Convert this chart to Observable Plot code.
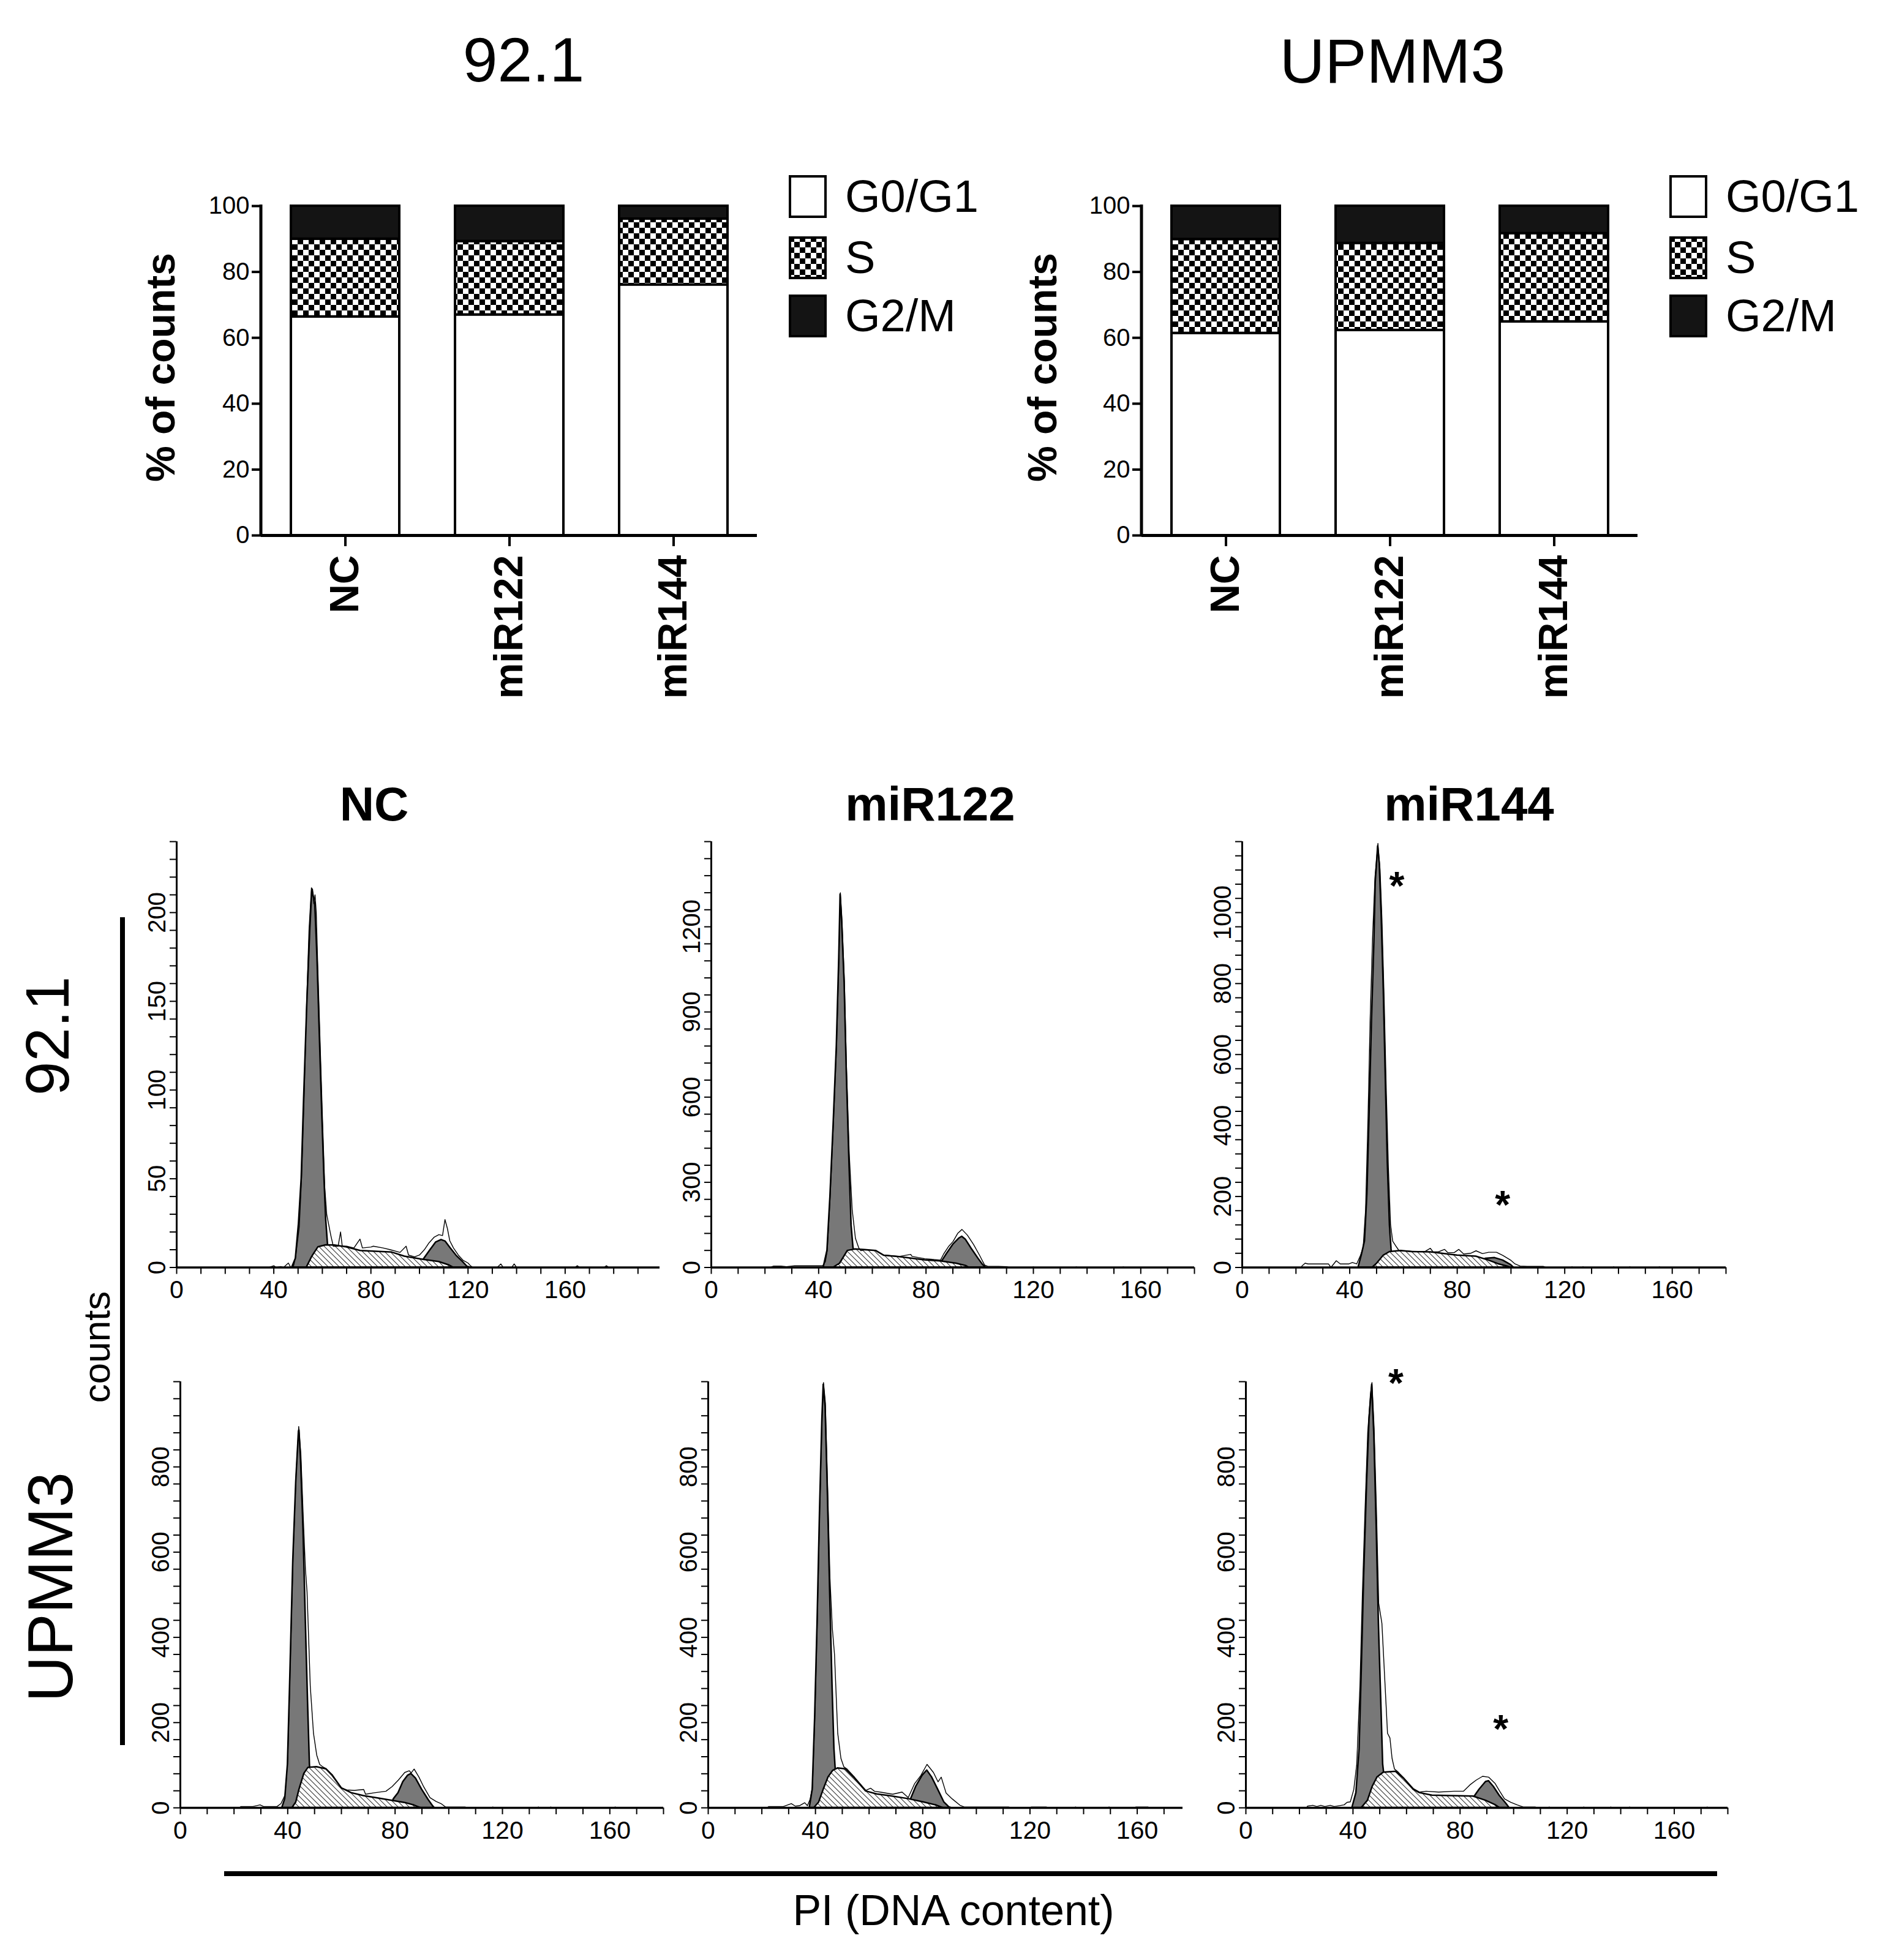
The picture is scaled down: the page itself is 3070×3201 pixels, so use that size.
<!DOCTYPE html>
<html><head><meta charset="utf-8">
<script src="https://cdn.jsdelivr.net/npm/d3@7"></script>
<script src="https://cdn.jsdelivr.net/npm/@observablehq/plot@0.6"></script>
<style>
body{margin:0;background:#fff;}
#root{position:relative;width:3070px;height:3201px;background:#fff;font-family:"Liberation Sans",Arial,sans-serif;overflow:hidden;color:#000;}
.lbl{position:absolute;white-space:nowrap;line-height:1;color:#000;transform:translate(-50%,-50%);}
.rot{transform:translate(-50%,-50%) rotate(-90deg);}
.bar{position:absolute;background:#000;}
</style></head><body>
<svg style="position:absolute;width:0;height:0" aria-hidden="true">
<defs>
<pattern id="checker" patternUnits="userSpaceOnUse" width="18" height="18"><rect width="18" height="18" fill="white"/><rect width="9" height="9" fill="black"/><rect x="9" y="9" width="9" height="9" fill="black"/></pattern>
<pattern id="hatch" patternUnits="userSpaceOnUse" width="9" height="9"><rect width="9" height="9" fill="white"/><path d="M0,0L9,9M-2,7L2,11M7,-2L11,2" stroke="#333" stroke-width="1.1"/></pattern>
</defs></svg>
<div id="root"></div>
<script>
// ---------- bar chart data ----------
const categories = ["NC", "miR122", "miR144"];
const phases = ["G0/G1", "S", "G2/M"];
const g1_921 = [66.4, 67.0, 76.1];
const s_921 = [23.6, 22.3, 20.0];
const g2m_921 = [10.0, 10.7, 3.9];
const g1_upmm3 = [61.4, 62.3, 64.9];
const s_upmm3 = [28.5, 26.4, 26.8];
const g2m_upmm3 = [10.1, 11.3, 8.3];
const pctTicks = [0, 20, 40, 60, 80, 100];

// ---------- histogram data: [PI, counts] ----------
// 92.1 NC
const a_g1 = [[47.5,0],[49,5],[50.3,25],[51.4,50],[52.4,95],[53.7,148],[55,192],[55.8,213],[57,205],[57.9,175],[58.9,130],[59.9,86],[60.8,50],[61.5,27],[62.3,12],[63,0]];
const a_s = [[53.5,0],[55.7,6],[58.3,11.5],[61.5,12.6],[65,12.5],[69.9,11.5],[75.7,9.4],[82,9],[88.7,8.5],[93.9,6.2],[101.6,4.4],[108,3.2],[112,1.4],[114,0]];
const a_g2 = [[100,0],[101.6,4.4],[104.2,9.4],[106.8,14.2],[109,15.6],[110.7,14.7],[112.6,11.2],[115.2,6.7],[117.8,3.2],[119.7,0.5],[121,0]];
const a_raw = [[38,0],[40,1],[41,0],[43,0.5],[44,0],[46,2.5],[47,0],[48,0],[49,6],[50.5,23],[51.5,52],[52.5,96],[53.5,148],[54.5,190],[55.5,214],[56,213],[56.5,205],[57,210],[57.5,200],[58,175],[59,130],[60,86],[61,45],[61.8,30],[62.5,25],[63.5,18],[64.5,12],[66.5,12],[67.5,20],[68.2,12],[70,12],[73,11],[75.5,16],[76.5,11],[80,11.5],[81,12],[85,11],[88,10],[92,8.5],[94.5,12],[95.5,7],[98,6],[100,7],[102,10],[104,14],[106,17],[108,18.5],[109.5,18],[110.5,27],[111.5,22],[112.5,15],[114,11],[116,7],[118,4],[120,2.5],[121,1],[122,0],[132,0],[133.5,2],[134.5,0],[138,0],[139,2],[140,0],[164,0],[165,1],[166,0],[176,0],[177,1],[178,0]];
// 92.1 miR122
const b_g1 = [[41.8,0],[43.2,59],[44.3,248],[45.5,503],[46.7,781],[47.6,1092],[48.1,1314],[48.7,1214],[49.6,1003],[50.4,692],[51.4,370],[52.2,148],[52.9,70],[53.4,48],[54,0]];
const b_s = [[45.5,0],[47.9,14],[50.8,59],[53.7,64],[57.2,62],[61.3,59],[64.3,42],[70.1,37],[79.5,26],[85.4,22],[91.3,14],[94.8,6],[96,0]];
const b_g2 = [[84,0],[86,23],[87.7,48],[90.1,81],[92.4,103],[93.4,109],[94.8,98],[97.1,64],[99.5,31],[101.2,9],[102.4,0]];
const b_raw = [[22,0],[23.2,5],[26,5],[28,3],[31,6],[35,6],[39,6],[41.5,6],[42.5,20],[43.2,59],[44.3,250],[45.5,505],[46.7,785],[47.6,1095],[48.1,1320],[48.7,1225],[49.6,1010],[50.4,700],[51.4,400],[52.5,203],[53.7,103],[54.9,70],[55.7,59],[57.2,62],[61.3,60],[64.3,44],[70.1,39],[74.3,46],[74.8,39],[79.5,31],[85.4,26],[86.6,48],[88.5,75],[90.1,92],[91.8,120],[93.4,134],[95.4,114],[97.7,81],[100,42],[101.8,9],[103,4],[107,4],[110,3],[111,0],[119.5,0],[120,2],[120.5,0],[135.5,0],[136,2],[136.5,0],[153,0],[153.5,2],[154,0]];
// 92.1 miR144
const c_g1 = [[43.2,0],[44.4,34],[45.6,74],[46.5,207],[47.3,428],[48.2,694],[49.1,916],[49.6,1085],[50.5,1187],[51.1,1138],[51.8,996],[52.6,783],[53.4,517],[54.1,295],[54.9,118],[55.5,51],[56.2,0]];
const c_s = [[48.5,0],[50.2,12],[52.6,34],[54.9,44],[59,47],[63.1,44],[70.1,43],[80,34],[87,31],[91.7,20],[95.2,10],[98.7,3],[99.9,0]];
const c_g2 = [[88,0],[90.5,25],[94,27],[97,20],[100,7],[101,0]];
const c_raw = [[22,0],[22.2,4],[23.4,12],[24.5,10],[28,10],[32.1,10],[33,0],[35,19],[36.5,10],[39.7,10],[41,14],[42.6,10],[44,34],[45,56],[45.9,162],[46.8,420],[47.6,700],[48.5,930],[49.4,1100],[50.5,1195],[51.3,1120],[52,980],[52.8,760],[53.6,500],[54.4,280],[55.2,120],[56,74],[57.2,60],[58.4,47],[63,46],[68,45],[70,54],[71,44],[73,44],[75.3,51],[76.5,42],[78.9,42],[80.6,51],[82.4,38],[85,40],[87,47],[89.4,39],[91.7,43],[94.6,43],[97,34],[100,20],[101.5,10],[103.4,4],[106,3],[112,3],[113,0],[122.5,0],[122.7,2],[123,0],[126.5,0],[126.8,2],[127.2,0],[138,0],[138.2,2],[138.5,0],[144,0],[144.2,2],[144.5,0],[155,0],[155.2,2],[155.5,0]];
const c_stars = [[57.5,1072],[96.9,174]];
// UPMM3 NC
const d_g1 = [[37.9,0],[39,21],[40,102],[40.8,286],[42,581],[43.1,765],[44.1,883],[44.3,886],[44.9,816],[45.8,654],[46.7,433],[47.5,249],[48.2,102],[48.6,60],[49,0]];
const d_s = [[41.7,0],[43.1,13],[44.3,43],[46.1,80],[47.6,94],[50.8,96],[54.3,91],[56.6,76],[60.1,46],[63.7,35],[68.3,28],[74.2,22],[78.9,17],[83.6,12],[87.1,6],[89.4,0]];
const d_g2 = [[78,0],[79.5,21],[81.2,35],[83,61],[84.8,76],[86,80],[87.7,69],[90,43],[92.4,19],[94.1,4],[94.7,0]];
const d_raw = [[22,0],[22.5,3],[27,3],[29.7,7],[31,3],[36,3],[37.5,10],[39,30],[40,110],[40.8,300],[42,590],[43.1,780],[44.1,895],[44.9,830],[45.8,680],[46.6,560],[47.2,507],[48.4,286],[49.6,175],[50.8,124],[51.9,102],[53.1,96],[54.3,92],[56.6,78],[60.1,46],[62,42],[64.8,41],[68.3,43],[69,32],[71.9,35],[76.6,39],[78.9,50],[81.2,65],[83.6,83],[85.3,87],[86,82],[87.1,91],[88.9,72],[90.6,50],[93,24],[95.3,15],[97.1,10],[98.8,2],[100,2],[106,2],[107,0],[116,0],[116.4,2],[116.8,0],[133,0],[133.4,2],[133.8,0],[137.6,0],[138,2],[138.4,0],[161.6,0],[162,2],[162.4,0]];
// UPMM3 miR122
const e_g1 = [[37.8,0],[38.9,43],[39.8,212],[40.7,433],[41.6,691],[42.5,912],[43,993],[43.7,942],[44.6,728],[45.4,507],[46.3,286],[47,139],[47.5,88],[48,0]];
const e_s = [[39.5,0],[41.3,13],[43,43],[44.8,72],[46.5,87],[48.3,93],[51.2,91],[54.7,69],[58.8,39],[62.9,32],[67.6,28],[74.6,21],[80.5,13],[85.1,6],[87.5,0]];
const e_g2 = [[74,0],[75.6,21],[77.5,50],[79.9,76],[81.6,88],[83.4,72],[85.7,43],[88,13],[89.8,2],[90.5,0]];
const e_raw = [[22,0],[22.5,3],[28,3],[31,10],[32.5,4],[34,5],[36,12],[37,5],[38,20],[38.9,50],[39.8,220],[40.7,440],[41.6,700],[42.5,920],[43,998],[43.7,950],[44.6,740],[45.4,540],[46.3,420],[47.1,360],[48.3,175],[49.5,116],[50.6,96],[51.8,91],[54.7,71],[58.8,41],[60.6,46],[62,39],[64.1,37],[68.8,32],[72.3,37],[74.6,24],[77,57],[79.3,76],[81.6,102],[84,83],[85.7,61],[86.9,72],[88.7,35],[91,21],[93.9,6],[95.5,2],[112,2],[113,0],[120,0],[120.5,2],[126,2],[127,0],[136.5,0],[137,2],[137.5,0],[149,0],[149.5,2],[150,0],[159,0],[159.5,2],[164,2],[164.5,0]];
// UPMM3 miR144
const f_g1 = [[39.7,0],[41.2,35],[42.4,139],[43.2,323],[44.1,544],[45.2,765],[46.1,912],[47.1,993],[47.9,875],[48.8,654],[49.6,433],[50.5,249],[51.2,102],[51.6,80],[52.2,0]];
const f_s = [[43.2,0],[45.5,17],[47.3,50],[49.1,72],[51.4,83],[56.1,85],[59,69],[62.6,43],[64.9,35],[69.6,29],[76.6,28],[84.9,27],[89.6,17],[93.1,7],[94.8,0]];
const f_g2 = [[84,0],[85.4,27],[87.2,43],[89.6,61],[90.7,63],[92.5,50],[94.8,28],[97.2,10],[98.4,0]];
const f_raw = [[22.7,0],[23,4],[25,6],[26.5,3],[28,6],[29.5,3],[31.5,6],[33,3],[36.7,7],[37.8,13],[39,14],[40.3,43],[41.4,102],[42.6,286],[43.5,500],[44.5,700],[45.5,880],[46.5,970],[47.1,998],[47.9,890],[48.8,690],[49.6,480],[50.8,433],[52,286],[52.9,175],[53.8,164],[54.6,116],[55.5,91],[56.7,85],[59,70],[62.6,45],[64.9,37],[67.3,39],[72,37],[77.8,39],[81.3,39],[83.7,54],[86,65],[88.4,74],[90.7,72],[93.1,57],[94.8,39],[96.6,21],[98.9,13],[101.3,7],[103.6,2],[108,2],[109,0],[113,0],[113.3,2],[113.6,0],[126,0],[126.2,2],[126.5,0],[136,0],[136.3,2],[136.6,0],[143,0],[143.3,2],[143.6,0],[172,0],[172.3,2],[172.6,0]];
const f_stars = [[56,994],[95.2,182]];

const panelTitles = ["NC", "miR122", "miR144"];
const lineTitles = ["92.1", "UPMM3"];

// ---------- helpers ----------
const root = document.getElementById("root");
const FONT = '"Liberation Sans", Arial, sans-serif';
function place(el, left, top) {
  el.style.position = "absolute";
  el.style.left = left + "px";
  el.style.top = top + "px";
  root.appendChild(el);
}
function label(text, cx, cy, size, opts = {}) {
  const d = document.createElement("div");
  d.className = "lbl" + (opts.rot ? " rot" : "");
  d.textContent = text;
  d.style.left = cx + "px";
  d.style.top = cy + "px";
  d.style.fontSize = size + "px";
  if (opts.bold) d.style.fontWeight = "bold";
  root.appendChild(d);
}
function barDiv(left, top, w, h) {
  const d = document.createElement("div");
  d.className = "bar";
  Object.assign(d.style, {left: left + "px", top: top + "px", width: w + "px", height: h + "px"});
  root.appendChild(d);
}
const plotStyle = {fontFamily: FONT, fontSize: "40px", color: "black", background: "transparent", overflow: "visible"};
const phaseFill = {"G0/G1": "white", "S": "url(#checker)", "G2/M": "#141414"};

function leftAxisLine(w) {
  return (index, scales, values, dims) => {
    const l = document.createElementNS("http://www.w3.org/2000/svg", "line");
    const x = dims.marginLeft;
    l.setAttribute("x1", x); l.setAttribute("x2", x);
    l.setAttribute("y1", scales.y(100) - 2); l.setAttribute("y2", scales.y(0) + 2);
    l.setAttribute("stroke", "black"); l.setAttribute("stroke-width", w);
    return l;
  };
}

function barChart(g1, s, g2, left) {
  const rows = categories.flatMap((c, i) => [
    {cat: c, phase: phases[0], v: g1[i]},
    {cat: c, phase: phases[1], v: s[i]},
    {cat: c, phase: phases[2], v: g2[i]}
  ]);
  const svg = Plot.plot({
    width: 1256, height: 874,
    marginLeft: 426, marginRight: 20, marginTop: 36, marginBottom: 300,
    x: {type: "band", domain: categories, paddingInner: 0.34, paddingOuter: 0.18},
    y: {domain: [0, 100]},
    color: {type: "identity"},
    style: plotStyle,
    marks: [
      Plot.barY(rows, {x: "cat", y: "v", fill: d => phaseFill[d.phase], stroke: "black", strokeWidth: 4}),
      Plot.ruleY([0], {strokeWidth: 5}),
      leftAxisLine(5),
      Plot.axisY({ticks: pctTicks, tickSize: 15, tickPadding: 4, fontSize: 40, strokeWidth: 4, label: null}),
      Plot.axisX({tickSize: 18, tickPadding: 14, tickRotate: -90, fontSize: 66, fontWeight: "bold", strokeWidth: 4, label: null})
    ]
  });
  place(svg, left, 300);
}

function legend(left) {
  const tops = [286, 386, 481];
  phases.forEach((p, i) => {
    const sw = document.createElementNS("http://www.w3.org/2000/svg", "svg");
    sw.setAttribute("width", 62); sw.setAttribute("height", 70);
    const r = document.createElementNS("http://www.w3.org/2000/svg", "rect");
    r.setAttribute("x", 2); r.setAttribute("y", 2); r.setAttribute("width", 58); r.setAttribute("height", 66);
    r.setAttribute("fill", phaseFill[p]); r.setAttribute("stroke", "black"); r.setAttribute("stroke-width", 4);
    sw.appendChild(r);
    place(sw, left, tops[i]);
    const t = document.createElement("div");
    t.className = "lbl";
    t.style.transform = "translate(0,-50%)";
    t.style.left = (left + 92) + "px";
    t.style.top = (tops[i] + 35) + "px";
    t.style.fontSize = "74px";
    t.textContent = p;
    root.appendChild(t);
  });
}

function hist(cfg) {
  const {g1, s, g2, raw, xmax, ymax, ystep, ylab, ylabMax, x0, x1, yTop, yBot, stars} = cfg;
  const mL = 80, mR = 20, mT = 20, mB = 80;
  const X = d => d[0], Y = d => d[1];
  const marks = [
    Plot.areaY(g1, {x: X, y: Y, fill: "#787878", stroke: "black", strokeWidth: 2.5}),
    Plot.areaY(g2, {x: X, y: Y, fill: "#787878", stroke: "black", strokeWidth: 2.5}),
    Plot.areaY(s, {x: X, y: Y, fill: "url(#hatch)", stroke: "black", strokeWidth: 2.5}),
    Plot.line(raw, {x: X, y: Y, stroke: "black", strokeWidth: 1.4}),
    Plot.ruleY([0], {strokeWidth: 3.5}),
    Plot.ruleX([0], {strokeWidth: 3}),
    Plot.axisX({ticks: d3.range(0, xmax + 0.001, 10), tickFormat: d => (d % 40 === 0 ? String(d) : ""),
      tickSize: 11, tickPadding: 10, fontSize: 41, strokeWidth: 2, label: null}),
    Plot.axisY({ticks: d3.range(0, ymax + 0.001, ystep), tickFormat: d => (d % ylab === 0 && d <= ylabMax ? String(d) : ""),
      tickRotate: -90, tickSize: 11, tickPadding: 8, fontSize: 40, strokeWidth: 2, label: null})
  ];
  if (stars) marks.push(Plot.text(stars, {x: X, y: Y, text: () => "*", fontSize: 64, fontWeight: "bold"}));
  const svg = Plot.plot({
    width: (x1 - x0) + mL + mR, height: (yBot - yTop) + mT + mB,
    marginLeft: mL, marginRight: mR, marginTop: mT, marginBottom: mB,
    x: {domain: [0, xmax]}, y: {domain: [0, ymax]},
    style: plotStyle,
    marks
  });
  place(svg, x0 - mL, yTop - mT);
}

// ---------- titles ----------
label(lineTitles[0], 855, 98, 102);
label(lineTitles[1], 2274, 100, 102);

// ---------- bar charts ----------
barChart(g1_921, s_921, g2m_921, 0);
barChart(g1_upmm3, s_upmm3, g2m_upmm3, 1438);
legend(1288);
legend(2726);
label("% of counts", 262, 600, 66, {rot: true, bold: true});
label("% of counts", 1702, 600, 66, {rot: true, bold: true});

// ---------- histogram panels ----------
label(panelTitles[0], 611, 1313, 78, {bold: true});
label(panelTitles[1], 1519, 1313, 78, {bold: true});
label(panelTitles[2], 2399, 1313, 78, {bold: true});

hist({g1: a_g1, s: a_s, g2: a_g2, raw: a_raw, xmax: 199, ymax: 240, ystep: 10, ylab: 50, ylabMax: 200, x0: 288, x1: 1077, yTop: 1374, yBot: 2069.5});
hist({g1: b_g1, s: b_s, g2: b_g2, raw: b_raw, xmax: 180, ymax: 1500, ystep: 60, ylab: 300, ylabMax: 1200, x0: 1161, x1: 1950, yTop: 1374, yBot: 2069.5});
hist({g1: c_g1, s: c_s, g2: c_g2, raw: c_raw, xmax: 180, ymax: 1200, ystep: 40, ylab: 200, ylabMax: 1000, x0: 2028, x1: 2818, yTop: 1374, yBot: 2069.5, stars: c_stars});
hist({g1: d_g1, s: d_s, g2: d_g2, raw: d_raw, xmax: 180, ymax: 1000, ystep: 40, ylab: 200, ylabMax: 800, x0: 294, x1: 1083, yTop: 2256, yBot: 2952});
hist({g1: e_g1, s: e_s, g2: e_g2, raw: e_raw, xmax: 177, ymax: 1000, ystep: 40, ylab: 200, ylabMax: 800, x0: 1156, x1: 1931, yTop: 2256, yBot: 2952});
hist({g1: f_g1, s: f_s, g2: f_g2, raw: f_raw, xmax: 180, ymax: 1000, ystep: 40, ylab: 200, ylabMax: 800, x0: 2034, x1: 2821, yTop: 2256, yBot: 2952, stars: f_stars});

// ---------- row / axis labels ----------
label(lineTitles[0], 77, 1692, 100, {rot: true});
label(lineTitles[1], 82, 2592, 104, {rot: true});
label("counts", 158, 2200, 62, {rot: true});
barDiv(196, 1498, 8, 1352);
barDiv(366, 3056, 2438, 8);
label("PI (DNA content)", 1557, 3120, 70);
</script></body></html>
